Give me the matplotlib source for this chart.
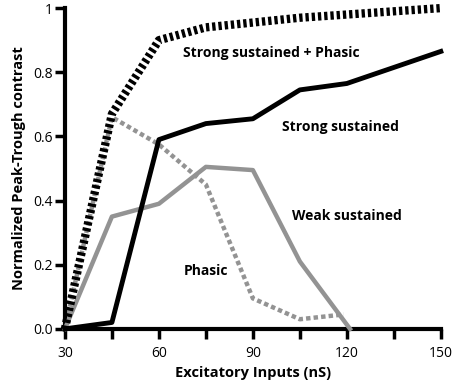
import matplotlib
matplotlib.use("Agg")
import matplotlib.pyplot as plt
from matplotlib.ticker import MultipleLocator, FixedLocator

x = [30, 45, 60, 75, 90, 105, 120, 135, 150]
strong_phasic = [0.0, 0.67, 0.90, 0.94, 0.955, 0.97, 0.98, 0.99, 1.0]
strong = [0.0, 0.02, 0.59, 0.64, 0.655, 0.745, 0.765, 0.815, 0.865]
x_weak = [30, 45, 60, 75, 90, 105, 121]
weak = [0.0, 0.35, 0.39, 0.505, 0.495, 0.21, 0.0]
x_phasic = [30, 45, 60, 75, 90, 105, 119]
phasic = [0.0, 0.66, 0.575, 0.45, 0.095, 0.03, 0.045]

xticks = [30, 60, 90, 120, 150]
yticks = [0.0, 0.2, 0.4, 0.6, 0.8, 1.0]
ytick_labels = ["0.0", "0.2", "0.4", "0.6", "0.8", "1"]

plt.rcParams['font.family'] = ['Open Sans', 'DejaVu Sans']

fig = plt.figure(figsize=(4.54, 3.86), dpi=100)
ax = fig.add_axes([0.143, 0.148, 0.828, 0.831])

gray = '#939393'
ax.plot(x_phasic, phasic, color=gray, lw=3.2, linestyle=(0, (1.0, 0.7)), clip_on=False, zorder=2)
ax.plot(x_weak, weak, color=gray, lw=3.2, clip_on=False, zorder=3)
ax.plot(x, strong, color='black', lw=3.5, clip_on=False, zorder=4)
ax.plot(x, strong_phasic, color='black', lw=6, linestyle=(0, (0.4, 0.35)), clip_on=False, zorder=5)

ax.set_xlim(30, 150)
ax.set_ylim(0, 1)
ax.xaxis.set_major_locator(FixedLocator(xticks))
ax.xaxis.set_minor_locator(MultipleLocator(15))
ax.set_yticks(yticks)
ax.set_yticklabels(ytick_labels)

for s in ['top', 'right']:
    ax.spines[s].set_visible(False)
for s in ['left', 'bottom']:
    ax.spines[s].set_linewidth(3)

ax.tick_params(axis='both', which='both', direction='out', width=2.5, length=7,
               labelsize=10, colors='black')
ax.tick_params(axis='x', which='major', pad=5)
ax.tick_params(axis='y', which='major', pad=2)

ax.set_xlabel('Excitatory Inputs (nS)', fontsize=10.5, fontweight='bold', labelpad=4)
ax.set_ylabel('Normalized Peak-Trough contrast', fontsize=10.5, fontweight='bold', labelpad=5)

kw = dict(fontsize=10, fontweight='bold', ha='center', va='center')
ax.text(96, 0.86, 'Strong sustained + Phasic', **kw)
ax.text(118, 0.63, 'Strong sustained', **kw)
ax.text(120, 0.352, 'Weak sustained', **kw)
ax.text(75, 0.18, 'Phasic', **kw)

fig.savefig('out.png', dpi=100)
